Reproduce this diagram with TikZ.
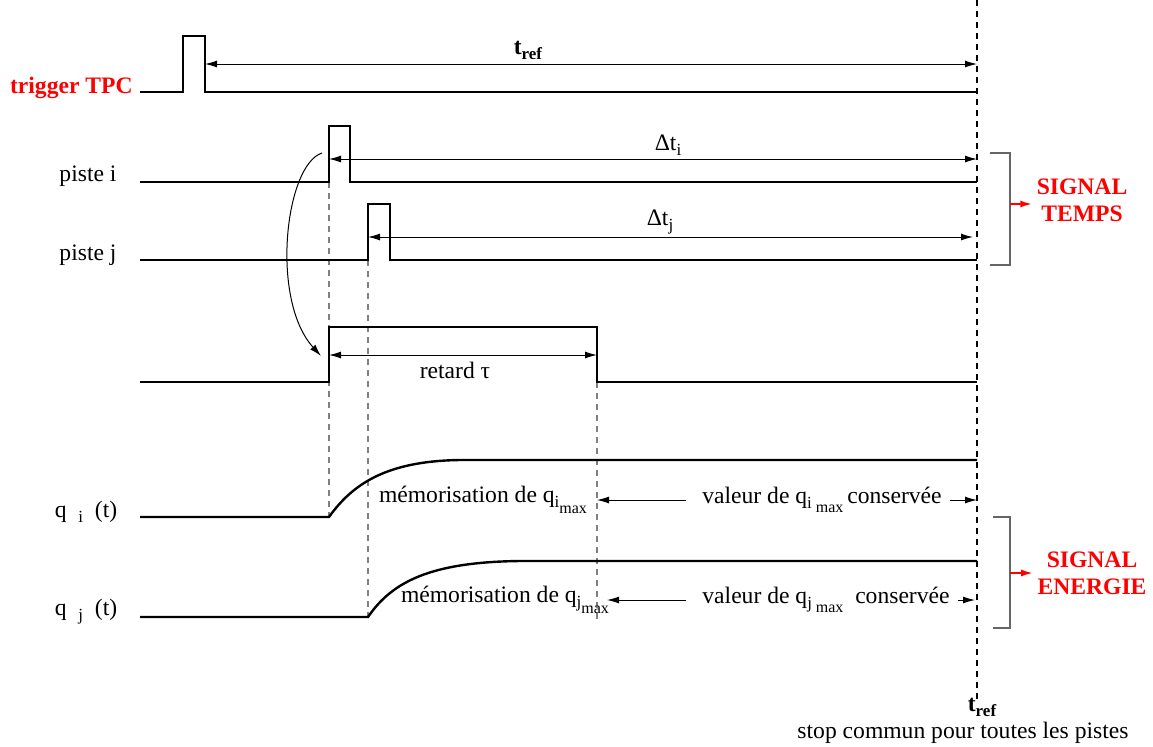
\documentclass[tikz,border=0pt]{standalone}
\usepackage{fontspec}
\setmainfont{Liberation Serif}
\usetikzlibrary{arrows.meta}
\newcommand{\fs}{\fontsize{11.8}{13.5}\selectfont}
\newcommand{\sub}[1]{\raisebox{-0.45ex}{\fontsize{8.5}{9}\selectfont #1}}
\newcommand{\bas}[1]{\raisebox{-0.8ex}{\fontsize{8}{8.5}\selectfont #1}}
\tikzset{
  sig/.style={line width=1.2pt},
  cote/.style={line width=0.5pt},
  guide/.style={gray, line width=0.6pt, dash pattern=on 3pt off 2.5pt},
  txt/.style={font=\fs, inner sep=2pt},
  rouge/.style={font=\fs\bfseries, text=red, align=center, inner sep=2pt},
  crochet/.style={gray!80!black, line width=0.7pt}
}
\begin{document}
\begin{tikzpicture}[x=0.5pt, y=-0.5pt, >={Latex[length=6pt,width=3.5pt]}]
  \useasboundingbox (0,0) rectangle (1153,746);
  % ligne de reference
  \draw[dash pattern=on 3pt off 2.5pt, line width=0.6pt] (977,0) -- (977,700);
  % guides
  \draw[guide] (329,182) -- (329,517);
  \draw[guide] (368,260) -- (368,617);
  \draw[guide] (597,382) -- (597,620);
  % signaux
  \draw[sig] (140,92) -- (183,92) -- (183,36) -- (205,36) -- (205,92) -- (977,92);
  \draw[sig] (140,182) -- (329,182) -- (329,126) -- (350,126) -- (350,182) -- (977,182);
  \draw[sig] (140,260) -- (368,260) -- (368,204) -- (390,204) -- (390,260) -- (977,260);
  \draw[sig] (140,382) -- (329,382) -- (329,327) -- (597,327) -- (597,382) -- (977,382);
  \draw[sig] (140,517) -- (329,517) .. controls (352,485) and (385,461) .. (460,460) -- (977,460);
  \draw[sig] (140,617) -- (368,617) .. controls (392,582) and (430,562) .. (520,561) -- (977,561);
  % etiquettes a gauche
  \node[rouge, anchor=east] (trig) at (137,88) {trigger TPC};
  \node[txt] (pi) at (88,176) {piste i};
  \node[txt] (pj) at (88,255) {piste j};
  \node[txt] (qi) at (86,512) {q\enspace\sub{i}\enspace(t)};
  \node[txt] (qj) at (86,612) {q\enspace\sub{j}\enspace(t)};
  % cotes
  \coordinate (R1) at (205,64);
  \coordinate (R2) at (977,64);
  \draw[cote, <->] (R1) -- (R2);
  \node[txt] (tref) at (528,50) {\textbf{t\sub{\bfseries ref}}};
  \coordinate (I1) at (329,159);
  \coordinate (I2) at (977,159);
  \draw[cote, <->] (I1) -- (I2);
  \node[txt] (dti) at (668,145) {Δt\sub{i}};
  \coordinate (J1) at (368,237);
  \coordinate (J2) at (973,237);
  \draw[cote, <->] (J1) -- (J2);
  \node[txt] (dtj) at (660,222) {Δt\sub{j}};
  \coordinate (D1) at (329,355);
  \coordinate (D2) at (597,355);
  \draw[cote, <->] (D1) -- (D2);
  \node[txt] (ret) at (455,370) {retard τ};
  % fleche courbe
  \coordinate (C1) at (322,153);
  \coordinate (C2) at (321,356);
  \draw[cote, ->] (C1) .. controls (285,165) and (270,300) .. (C2);
  % memorisation
  \node[txt] (memi) at (483,500) {mémorisation de q\sub{i\bas{max}}};
  \node[txt] (memj) at (505,600) {mémorisation de q\sub{j\bas{max}}};
  \coordinate (Mi) at (597,500);
  \coordinate (Ni) at (977,500);
  \coordinate (Mj) at (607,600);
  \coordinate (Nj) at (975,600);
  \node[txt, inner sep=4pt] (vali) at (822,500) {valeur de q\sub{i}\,\bas{max}\,conservée};
  \node[txt, inner sep=4pt] (valj) at (826,600) {valeur de q\sub{j}\,\bas{max}\enspace conservée};
  \draw[cote, ->] ([xshift=-4pt]vali.west) -- (Mi);
  \draw[cote, ->] (vali.east) -- (Ni);
  \draw[cote, ->] ([xshift=-4pt]valj.west) -- (Mj);
  \draw[cote, ->] (valj.east) -- (Nj);
  % crochets
  \draw[crochet] (990,153) -- (1010,153) -- (1010,265) -- (990,265);
  \draw[crochet] (993,517) -- (1010,517) -- (1010,628) -- (993,628);
  \node[rouge] (temps) at (1082,200) {SIGNAL\\TEMPS};
  \node[rouge] (ener) at (1092,573) {SIGNAL\\ENERGIE};
  \coordinate (B1) at (1010,204);
  \coordinate (B2) at (1010,573);
  \draw[red, line width=1pt, ->] (B1) -- (temps.west |- B1);
  \draw[red, line width=1pt, ->] (B2) -- (ener.west |- B2);
  % bas
  \node[txt] (trefb) at (982,707) {\textbf{t\sub{\bfseries ref}}};
  \node[txt, below=-2pt] (stop) at (963,722) {stop commun pour toutes les pistes};
\end{tikzpicture}
\end{document}
